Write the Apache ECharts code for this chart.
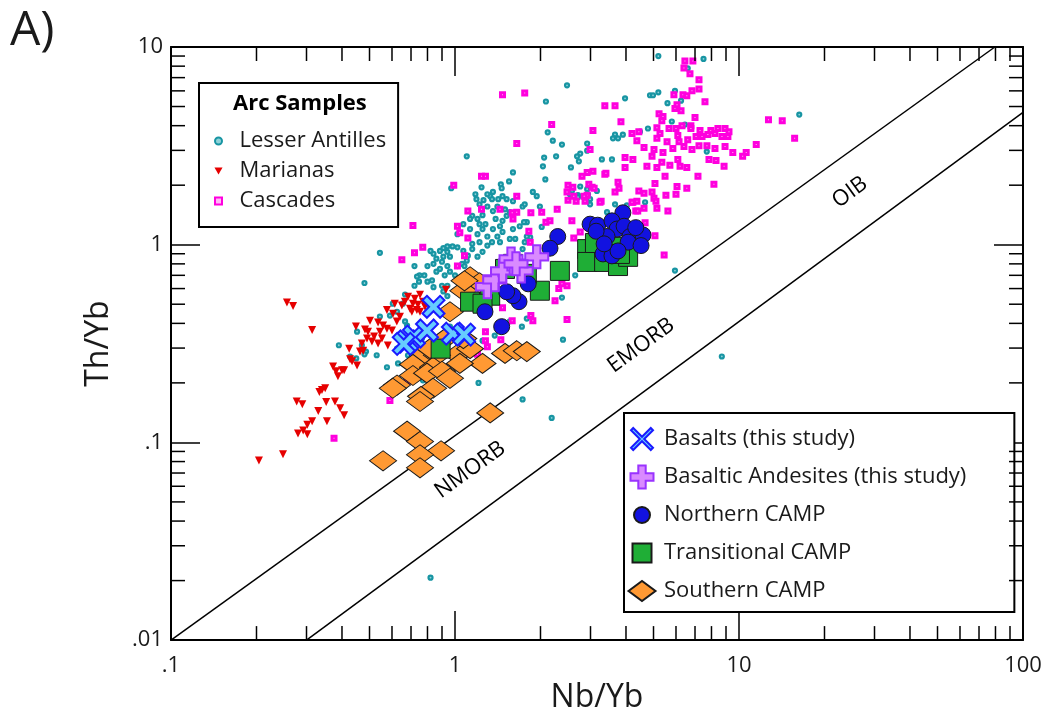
<!DOCTYPE html>
<html><head><meta charset="utf-8">
<script src="https://cdn.jsdelivr.net/npm/echarts@6/dist/echarts.min.js"></script>
<style>html,body{margin:0;padding:0;background:#fff}#c{width:1045px;height:719px}</style>
</head><body><div id="c"></div>
<script>
const X_MIN = 0.1, X_MAX = 100, Y_MIN = 0.01, Y_MAX = 10;
const MINOR_X = [0.2,0.3,0.4,0.5,0.6,0.7,0.8,0.9,2,3,4,5,6,7,8,9,20,30,40,50,60,70,80,90];
const MINOR_Y = [0.02,0.03,0.04,0.05,0.06,0.07,0.08,0.09,0.2,0.3,0.4,0.5,0.6,0.7,0.8,0.9,2,3,4,5,6,7,8,9];

const LESSER_ANTILLES = [[5.2,9.0],[7.5,8.7],[6.6,7.8],[2.48,6.4],[2.09,5.3],[3.97,5.5],[4.86,5.7],[4.98,5.7],[5.2,5.9],[5.95,6.0],[6.25,5.35],[5.6,5.2],[4.48,3.73],[4.78,3.87],[3.66,3.61],[3.6,3.45],[3.75,3.45],[3.9,3.6],[5.8,4.2],[6.45,4.05],[2.12,3.7],[2.21,3.36],[2.38,3.21],[2.92,3.25],[2.92,2.99],[2.76,2.89],[2.69,2.8],[2.73,2.64],[2.27,2.8],[2.06,2.76],[2.04,2.49],[2.56,2.46],[3.29,2.7],[3.57,2.7],[7.7,2.96],[16.3,4.55],[1.10,2.8],[2.08,2.14],[1.60,2.32],[1.55,2.09],[1.45,2.02],[1.46,1.93],[1.47,1.76],[1.52,1.70],[1.42,1.70],[1.36,1.85],[1.33,1.76],[1.35,1.7],[1.30,1.80],[1.24,1.95],[1.18,1.80],[1.19,1.70],[1.22,1.60],[1.24,1.51],[1.26,1.68],[0.97,1.93],[1.88,1.85],[1.94,1.76],[1.73,1.56],[1.99,1.56],[1.65,1.46],[1.56,1.46],[1.50,1.51],[1.52,1.40],[1.41,1.56],[1.36,1.48],[1.25,1.41],[1.20,1.35],[1.15,1.40],[1.13,1.35],[1.07,1.27],[1.02,1.24],[1.02,1.13],[1.13,1.20],[1.22,1.27],[1.28,1.27],[1.25,1.20],[1.20,1.13],[1.30,1.10],[1.36,1.20],[1.41,1.10],[1.47,1.16],[1.44,1.24],[1.39,1.35],[1.60,1.20],[1.63,1.07],[1.69,1.24],[1.79,1.30],[1.76,1.03],[1.84,1.09],[2.02,1.23],[1.56,1.07],[1.44,1.03],[1.35,1.03],[1.30,0.99],[1.22,1.03],[1.15,1.01],[1.15,0.95],[1.25,0.92],[1.20,0.87],[1.11,0.88],[1.07,0.93],[1.10,0.83],[1.06,0.80],[1.08,0.78],[1.02,0.97],[0.98,0.98],[0.94,0.98],[0.91,0.96],[0.885,0.93],[0.94,0.92],[0.96,0.87],[0.91,0.87],[0.86,0.85],[0.84,0.90],[0.82,0.93],[0.90,0.82],[0.94,0.78],[1.02,0.78],[0.96,0.73],[0.92,0.70],[1.0,0.70],[0.885,0.754],[0.86,0.73],[0.84,0.80],[0.80,0.78],[0.78,0.70],[0.75,0.70],[0.735,0.69],[0.72,0.62],[0.747,0.65],[0.80,0.65],[0.83,0.66],[0.84,0.61],[0.90,0.62],[0.94,0.62],[0.91,0.58],[0.94,0.55],[0.72,0.78],[0.667,0.56],[0.544,0.91],[0.48,0.64],[0.39,0.31],[0.452,0.363],[0.47,0.31],[0.486,0.288],[0.53,0.276],[0.576,0.24],[0.48,0.279],[0.427,0.272],[0.449,0.266],[0.544,0.433],[0.59,0.438],[0.625,0.458],[0.655,0.503],[0.604,0.503],[0.667,0.409],[0.765,0.335],[0.683,0.276],[0.625,0.298],[0.817,0.49],[0.96,0.49],[0.797,0.211],[0.96,0.385],[1.07,0.266],[1.25,0.327],[1.42,0.39],[1.56,0.41],[1.72,0.385],[1.79,0.423],[1.38,0.347],[1.21,0.20],[1.73,0.165],[2.19,0.133],[2.40,0.331],[0.678,0.39],[0.723,0.347],[0.63,0.251],[0.771,0.206],[1.30,1.56],[1.60,1.66],[1.76,1.60],[1.75,1.30],[1.47,1.32],[1.79,1.10],[1.73,0.95],[2.58,1.87],[2.71,1.78],[2.94,1.80],[3.16,1.87],[2.99,1.70],[3.43,1.46],[3.66,1.60],[4.03,1.58],[4.67,1.64],[2.65,0.70],[2.38,0.54],[5.95,0.74],[8.7,0.272],[0.82,0.0207],[2.80,2.22],[2.76,1.97],[2.54,1.80],[2.71,1.74],[2.92,1.91],[2.99,1.60]];

const MARIANAS = [[0.204,0.081],[0.248,0.087],[0.256,0.51],[0.269,0.49],[0.314,0.37],[0.277,0.161],[0.29,0.156],[0.33,0.144],[0.333,0.18],[0.34,0.184],[0.349,0.188],[0.352,0.16],[0.354,0.128],[0.378,0.161],[0.394,0.149],[0.407,0.137],[0.314,0.128],[0.302,0.123],[0.292,0.115],[0.28,0.111],[0.302,0.11],[0.372,0.242],[0.387,0.216],[0.40,0.232],[0.407,0.232],[0.381,0.229],[0.424,0.298],[0.427,0.263],[0.452,0.245],[0.434,0.257],[0.448,0.386],[0.463,0.288],[0.475,0.291],[0.49,0.335],[0.494,0.363],[0.51,0.324],[0.519,0.343],[0.502,0.413],[0.536,0.404],[0.553,0.335],[0.576,0.376],[0.58,0.309],[0.60,0.368],[0.576,0.468],[0.605,0.447],[0.624,0.409],[0.558,0.39],[0.65,0.492],[0.683,0.545],[0.711,0.503],[0.734,0.468],[0.753,0.458],[0.694,0.474],[0.666,0.515],[0.722,0.533],[0.753,0.558],[0.772,0.515],[0.74,0.497],[0.929,0.591],[0.705,0.458],[0.614,0.503],[0.64,0.432],[0.482,0.372],[0.536,0.316],[0.784,0.486],[0.544,0.363],[0.47,0.316]];

const CASCADES = [[1.47,5.73],[1.76,5.86],[6.45,8.5],[6.88,8.5],[6.4,7.84],[6.72,7.32],[7.23,6.82],[6.83,6.0],[7.23,6.14],[5.9,5.73],[6.35,5.73],[6.55,5.66],[7.59,5.29],[3.37,5.04],[3.66,5.04],[5.95,4.88],[6.25,4.76],[6.05,5.1],[7.0,4.4],[5.23,4.6],[5.4,4.45],[5.35,4.24],[3.84,4.19],[2.19,4.05],[3.06,3.78],[1.65,3.25],[5.14,3.91],[5.67,3.87],[6.0,3.87],[6.3,4.0],[6.77,4.0],[6.77,3.87],[7.29,3.78],[7.96,3.78],[8.43,3.87],[8.93,3.87],[9.22,3.73],[4.2,3.65],[4.44,3.73],[5.27,3.65],[5.58,3.32],[5.14,3.45],[6.09,3.57],[6.15,3.32],[6.6,3.4],[7.06,3.53],[7.41,3.53],[7.77,3.61],[8.23,3.65],[8.71,3.53],[9.14,3.53],[4.37,3.36],[4.63,3.10],[4.94,2.8],[5.02,3.03],[5.4,2.93],[5.85,3.07],[6.4,3.14],[6.83,3.03],[7.23,3.17],[7.71,3.17],[8.23,3.07],[8.93,3.14],[9.51,2.93],[10.6,2.93],[10.3,2.8],[11.5,3.21],[12.7,4.29],[14.2,4.24],[15.7,3.45],[3.97,2.76],[4.23,2.7],[4.74,2.49],[5.14,2.46],[5.35,2.61],[5.71,2.52],[6.2,2.49],[6.55,2.46],[6.09,2.7],[7.84,2.7],[8.3,2.67],[8.86,2.49],[7.17,2.22],[8.16,2.02],[3.97,2.46],[3.37,2.27],[2.92,2.32],[3.06,2.35],[2.8,2.22],[2.5,2.0],[2.6,1.95],[2.48,1.85],[2.62,1.76],[2.5,1.68],[2.96,2.02],[3.04,1.95],[2.92,1.78],[3.09,1.93],[3.75,2.07],[3.78,1.93],[3.66,1.85],[4.44,1.87],[4.63,1.82],[4.94,1.85],[5.02,1.72],[5.1,1.66],[5.49,2.22],[5.06,2.04],[6.05,1.97],[6.55,1.93],[5.53,1.78],[6.0,1.8],[4.63,1.53],[5.14,1.53],[5.62,1.48],[4.37,1.66],[4.23,1.64],[3.27,1.66],[2.87,1.66],[2.67,1.66],[1.65,1.76],[2.02,1.46],[1.85,1.45],[2.29,1.51],[1.65,1.46],[1.59,1.45],[2.99,3.03],[4.33,1.48],[1.24,2.22],[1.28,2.22],[0.99,2.0],[1.44,1.51],[1.24,1.51],[1.11,1.48],[1.6,1.35],[2.09,1.30],[1.82,1.17],[1.84,1.03],[1.02,1.24],[1.04,1.15],[1.11,1.08],[0.711,1.25],[0.77,0.97],[0.72,0.91],[0.65,0.84],[1.08,0.88],[2.16,1.32],[2.58,1.32],[2.62,1.08],[2.76,1.16],[3.06,1.09],[2.38,0.634],[2.48,0.62],[2.32,0.60],[2.25,0.52],[2.48,0.418],[1.85,0.438],[1.88,0.413],[1.47,0.48],[1.28,0.363],[1.59,0.413],[1.30,0.305],[1.28,0.327],[1.45,0.331],[1.20,0.279],[0.59,0.163],[0.375,0.105],[0.678,0.204],[1.02,0.78],[4.67,1.29],[5.06,1.11],[5.45,0.888],[3.24,1.64],[3.4,2.3],[4.2,1.64],[4.4,1.48],[2.85,1.76]];

const BASALTS = [[0.84,0.485],[0.678,0.324],[0.717,0.343],[0.797,0.368],[0.983,0.355],[1.076,0.351],[0.66,0.315]];
const BASALTIC_ANDESITES = [[1.30,0.613],[1.38,0.664],[1.47,0.737],[1.575,0.847],[1.71,0.737],[1.94,0.868],[1.64,0.80]];
const NORTHERN_CAMP = [[3.90,1.45],[2.99,1.27],[3.18,1.255],[3.57,1.32],[3.72,1.20],[3.94,1.24],[3.43,1.10],[4.13,1.10],[4.59,1.12],[4.07,1.03],[4.52,0.99],[3.32,0.898],[3.57,0.878],[3.75,0.93],[2.30,1.10],[2.16,0.96],[1.81,0.634],[1.68,0.515],[1.60,0.552],[1.52,0.578],[1.275,0.458],[1.46,0.385],[3.14,1.17],[4.33,1.22],[3.35,1.01]];
const TRANSITIONAL_CAMP = [[2.92,0.95],[2.92,0.818],[3.35,0.818],[3.75,0.78],[4.07,0.868],[3.57,0.975],[3.11,1.02],[2.34,0.737],[1.99,0.585],[1.79,0.712],[1.60,0.80],[1.50,0.754],[1.33,0.552],[1.13,0.515],[1.25,0.503],[0.89,0.298],[3.81,0.898]];
const SOUTHERN_CAMP = [[1.13,0.688],[1.22,0.642],[1.07,0.585],[0.96,0.458],[1.02,0.279],[1.13,0.298],[1.25,0.251],[0.772,0.276],[0.864,0.276],[0.711,0.248],[0.837,0.24],[0.711,0.218],[0.797,0.224],[0.90,0.229],[0.96,0.211],[0.837,0.188],[0.759,0.171],[0.753,0.161],[0.625,0.195],[0.604,0.188],[1.50,0.282],[1.65,0.291],[1.79,0.288],[1.33,0.141],[0.678,0.114],[0.753,0.101],[0.893,0.0907],[0.753,0.0866],[0.558,0.0807],[0.753,0.0744],[0.922,0.335],[1.07,0.335],[1.08,0.657],[1.04,0.251],[0.817,0.298]];

const BOUNDARY_UPPER = [[0.1,0.01],[79.6,10]];
const BOUNDARY_LOWER = [[0.3,0.01],[100,4.67]];
const FIELD_NAMES = ['NMORB','EMORB','OIB'];
const FIELD_X = [1.13,4.52,24.6];
const FIELD_Y = [0.0726,0.309,1.84];

const FONT = "'Open Sans', 'Noto Sans', sans-serif";
const TXT = '#1a1a1a';

const SYM_X = 'path://M2,0 L5,3 L8,0 L10,2 L7,5 L10,8 L8,10 L5,7 L2,10 L0,8 L3,5 L0,2 Z';
const SYM_PLUS = 'path://M3.4,0 L6.6,0 L6.6,3.4 L10,3.4 L10,6.6 L6.6,6.6 L6.6,10 L3.4,10 L3.4,6.6 L0,6.6 L0,3.4 L3.4,3.4 Z';
const SYM_TRI = 'path://M0,0 L10,0 L5,8.66 Z';
const LEG_X = 'path://M0,0 M28,28 M5.2,3 L14,11.8 L22.8,3 L25,5.2 L16.2,14 L25,22.8 L22.8,25 L14,16.2 L5.2,25 L3,22.8 L11.8,14 L3,5.2 Z';
const LEG_PLUS = 'path://M0,0 M28,28 M10.3,2.5 L17.7,2.5 L17.7,10.3 L25.5,10.3 L25.5,17.7 L17.7,17.7 L17.7,25.5 L10.3,25.5 L10.3,17.7 L2.5,17.7 L2.5,10.3 L10.3,10.3 Z';
const LEG_CIRC = 'path://M0,0 M28,28 M6,14 A8,8 0 1,0 22,14 A8,8 0 1,0 6,14 Z';
const LEG_SQ = 'path://M0,0 M28,28 M4.5,4.5 L23.5,4.5 L23.5,23.5 L4.5,23.5 Z';
const LEG_DIA = 'path://M0,0 M28,28 M0.5,14 L14,4 L27.5,14 L14,24 Z';

function fmtTick(v) {
  const s = String(+Number(v).toPrecision(6));
  return s.indexOf('0.') === 0 ? s.slice(1) : s;
}

function minorTicks(values, isX) {
  return {
    type: 'custom', silent: true, clip: false, z: 6,
    data: values.map(v => isX ? [v, Y_MIN] : [X_MIN, v]),
    renderItem: function (params, api) {
      const v = api.value(isX ? 0 : 1);
      const a = api.coord(isX ? [v, Y_MIN] : [X_MIN, v]);
      const b = api.coord(isX ? [v, Y_MAX] : [X_MAX, v]);
      const L = 14, st = { stroke: '#000', lineWidth: 1.5 };
      const ch = isX ? [
        { type: 'line', shape: { x1: a[0], y1: a[1], x2: a[0], y2: a[1] - L }, style: st },
        { type: 'line', shape: { x1: b[0], y1: b[1], x2: b[0], y2: b[1] + L }, style: st }
      ] : [
        { type: 'line', shape: { x1: a[0], y1: a[1], x2: a[0] + L, y2: a[1] }, style: st },
        { type: 'line', shape: { x1: b[0], y1: b[1], x2: b[0] - L, y2: b[1] }, style: st }
      ];
      return { type: 'group', children: ch };
    }
  };
}

function logAxis(isX, pos, showLabel) {
  return {
    type: 'log', logBase: 10, position: pos,
    min: isX ? X_MIN : Y_MIN, max: isX ? X_MAX : Y_MAX, splitNumber: 3,
    axisLine: { show: true, lineStyle: { color: '#000', width: 2 } },
    axisTick: { show: true, inside: true, length: 29, lineStyle: { color: '#000', width: 1.5 } },
    minorTick: { show: false }, splitLine: { show: false },
    axisLabel: { show: showLabel, formatter: fmtTick, fontFamily: FONT, fontSize: 22, color: TXT,
      margin: isX ? 15 : 8, showMinLabel: true, showMaxLabel: true }
  };
}

const xAxes = [logAxis(true, 'bottom', true), logAxis(true, 'top', false)];
xAxes[0].name = 'Nb/Yb'; xAxes[0].nameLocation = 'middle'; xAxes[0].nameGap = 36;
xAxes[0].nameTextStyle = { fontFamily: FONT, fontSize: 32, color: TXT };
const yAxes = [logAxis(false, 'left', true), logAxis(false, 'right', false)];
yAxes[0].name = 'Th/Yb'; yAxes[0].nameLocation = 'middle'; yAxes[0].nameGap = 56;
yAxes[0].nameTextStyle = { fontFamily: FONT, fontSize: 32, color: TXT };

const scat = (name, data, symbol, size, fill, border, bw, z) => ({
  name, type: 'scatter', data, symbol, symbolSize: size, z: z || 2,
  itemStyle: { color: fill, borderColor: border, borderWidth: bw, opacity: 1 },
  emphasis: { disabled: true }
});

const chart = echarts.init(document.getElementById('c'), null, { renderer: 'canvas' });
chart.setOption({
  animation: false,
  backgroundColor: '#fff',
  title: [
    { text: 'A)', left: 10, top: 7, padding: 0, textStyle: { fontFamily: FONT, fontSize: 48, fontWeight: 'normal', color: TXT } },
    { text: 'Arc Samples', left: 233, top: 91, padding: 0, z: 10, textStyle: { fontFamily: FONT, fontSize: 22, fontWeight: 'bold', color: '#000', lineHeight: 26 } }
  ],
  grid: { left: 171, right: 22, top: 47, bottom: 76, containLabel: false },
  xAxis: xAxes,
  yAxis: yAxes,
  legend: [
    {
      orient: 'vertical', left: 199, top: 83, padding: [46, 12, 14, 15],
      itemWidth: 32, itemHeight: 7, itemGap: 6, selectedMode: false,
      backgroundColor: '#fff', borderColor: '#000', borderWidth: 2,
      textStyle: { fontFamily: FONT, fontSize: 22, color: TXT, lineHeight: 24 },
      data: [
        { name: 'Lesser Antilles', icon: 'circle' },
        { name: 'Marianas', icon: SYM_TRI },
        { name: 'Cascades', icon: 'path://M0,0 L1,0 L1,1 L0,1 Z' }
      ]
    },
    {
      orient: 'vertical', left: 624, top: 413, padding: [11, 48, 6, 3],
      itemWidth: 34, itemHeight: 28, itemGap: 8, selectedMode: false,
      backgroundColor: '#fff', borderColor: '#000', borderWidth: 2,
      textStyle: { fontFamily: FONT, fontSize: 22, color: TXT, lineHeight: 26 },
      data: [
        { name: 'Basalts (this study)', icon: LEG_X },
        { name: 'Basaltic Andesites (this study)', icon: LEG_PLUS },
        { name: 'Northern CAMP', icon: LEG_CIRC },
        { name: 'Transitional CAMP', icon: LEG_SQ },
        { name: 'Southern CAMP', icon: LEG_DIA }
      ]
    }
  ],
  series: [
    minorTicks(MINOR_X, true),
    minorTicks(MINOR_Y, false),
    { type: 'line', data: BOUNDARY_UPPER, symbol: 'none', silent: true, z: 1, lineStyle: { color: '#000', width: 1.5 } },
    { type: 'line', data: BOUNDARY_LOWER, symbol: 'none', silent: true, z: 1, lineStyle: { color: '#000', width: 1.5 } },
    {
      type: 'scatter', silent: true, z: 1, symbolSize: 1, itemStyle: { opacity: 0 },
      data: FIELD_NAMES.map((n, i) => [FIELD_X[i], FIELD_Y[i], n]),
      label: { show: true, position: 'inside', rotate: 36, formatter: p => p.value[2],
        fontFamily: FONT, fontSize: 22, color: '#000', opacity: 1, textBorderWidth: 0 }
    },
    scat('Lesser Antilles', LESSER_ANTILLES, 'circle', 4, '#8fd2d8', '#1895a3', 2.2),
    scat('Marianas', MARIANAS, SYM_TRI, 8, '#e60000', '#e60000', 0),
    scat('Cascades', CASCADES, 'rect', 4, '#ffb8f6', '#ff00de', 3),
    scat('Southern CAMP', SOUTHERN_CAMP, 'diamond', [27, 20], '#ff9933', '#1a1a1a', 1, 3),
    scat('Transitional CAMP', TRANSITIONAL_CAMP, 'rect', 19, '#1fae36', '#1a1a1a', 1, 3),
    scat('Northern CAMP', NORTHERN_CAMP, 'circle', 16, '#1212e0', '#1a1a1a', 1, 3),
    scat('Basaltic Andesites (this study)', BASALTIC_ANDESITES, SYM_PLUS, 23, '#d98aff', '#9a33ff', 2, 3),
    scat('Basalts (this study)', BASALTS, SYM_X, 22, '#66ccff', '#1a1aff', 2, 3)
  ]
});
</script></body></html>
